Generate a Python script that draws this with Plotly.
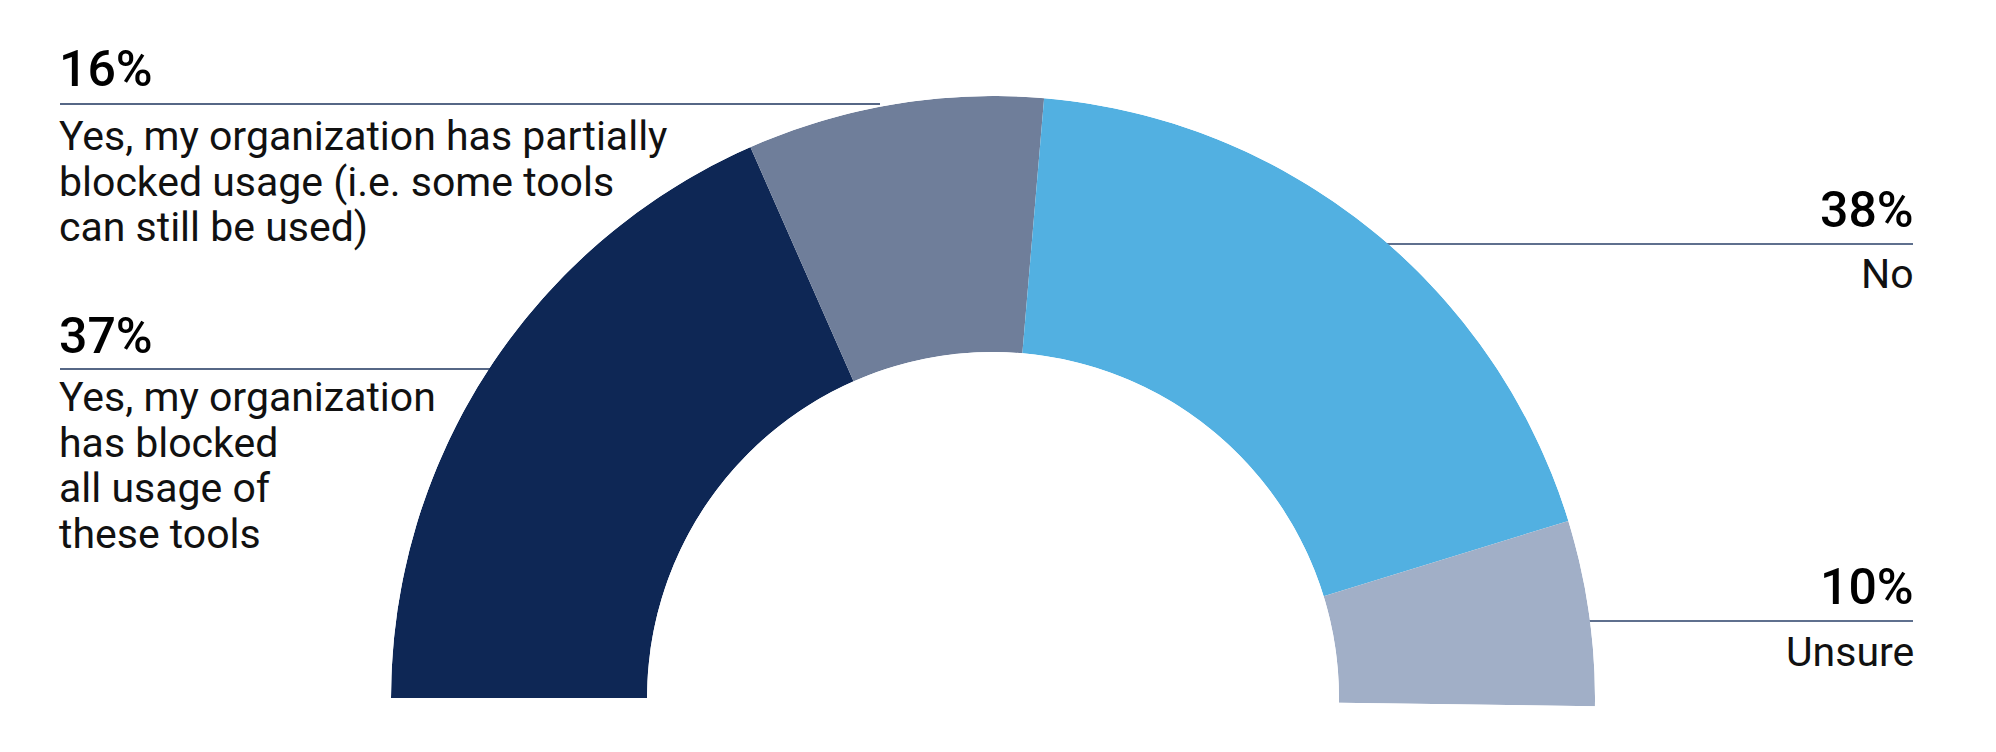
import plotly.graph_objects as go
import math

# ---- data ----
categories = [
    "Yes, my organization has blocked all usage of these tools",
    "Yes, my organization has partially blocked usage (i.e. some tools can still be used)",
    "No",
    "Unsure",
]
values = [37, 16, 38, 10]
pct_labels = ["37%", "16%", "38%", "10%"]
colors = ["#0e2755", "#6f7e9a", "#52b0e1", "#a1afc7"]

W, H = 1996, 752
DEG_PER_PCT = 1.79

# pie geometry (pixels)
R = 602
CX, CY = 993, 698
HOLE = 346 / 602

total = sum(values)
end_angle = 180 - total * DEG_PER_PCT  # screen angle where last slice ends
below = -math.sin(math.radians(end_angle)) if end_angle < 0 else 0

# bar centers / widths along angular axis (0 = west, clockwise)
thetas, widths = [], []
cum = 0
for v in values:
    thetas.append((cum + v / 2) * DEG_PER_PCT)
    widths.append(v * DEG_PER_PCT)
    cum += v

fig = go.Figure()
fig.add_trace(go.Barpolar(
    r=[1] * len(values),
    theta=thetas,
    width=widths,
    marker=dict(color=colors, line=dict(width=0)),
    text=categories,
    hoverinfo="text",
    showlegend=False,
))

dom_x = [(CX - R) / W, (CX + R) / W]
dom_y = [1 - (CY + R * below) / H, 1 - (CY - R) / H]

fig.update_layout(
    width=W, height=H,
    margin=dict(l=0, r=0, t=0, b=0),
    paper_bgcolor="white",
    plot_bgcolor="white",
    polar=dict(
        domain=dict(x=dom_x, y=dom_y),
        sector=[end_angle, 180],
        hole=HOLE,
        bgcolor="rgba(0,0,0,0)",
        radialaxis=dict(range=[0, 1], visible=False, showgrid=False, showline=False, showticklabels=False, ticks=""),
        angularaxis=dict(rotation=180, direction="clockwise", visible=False, showgrid=False,
                         showline=False, showticklabels=False, ticks=""),
    ),
    showlegend=False,
)

FONT = "Roboto"
pct_font = dict(family=FONT, size=50, color="#000000", weight=500)
txt_font = dict(family=FONT, size=41, color="#111111")

def px_y(py):
    return 1 - py / H

LEFT_X = 60 / W
RIGHT_X = 1913 / W

# left labels: (pct index, pct y, line y, line end x, text lines, text first y)
left_specs = [
    (1, 69, 104, 880, ["Yes, my organization has partially", "blocked usage (i.e. some tools", "can still be used)"], 136),
    (0, 336, 369, 500, ["Yes, my organization", "has blocked", "all usage of", "these tools"], 397),
]
LINE_GAP = 45.5

for idx, py, ly, lx_end, lines, ty in left_specs:
    fig.add_annotation(x=LEFT_X - 3 / W, y=px_y(py), xref="paper", yref="paper", text=pct_labels[idx],
                       showarrow=False, xanchor="left", yanchor="middle", font=pct_font)
    fig.add_shape(type="line", xref="paper", yref="paper", x0=LEFT_X, x1=lx_end / W,
                  y0=px_y(ly), y1=px_y(ly), line=dict(color="#1e355e", width=1.5), layer="below")
    for i, t in enumerate(lines):
        fig.add_annotation(x=LEFT_X - 3 / W, y=px_y(ty + i * LINE_GAP), xref="paper", yref="paper", text=t,
                           showarrow=False, xanchor="left", yanchor="middle", font=txt_font)

right_specs = [
    (2, 210, 244, 1380, "No", 274),
    (3, 587, 621, 1585, "Unsure", 652),
]
for idx, py, ly, lx_start, t, ty in right_specs:
    fig.add_annotation(x=RIGHT_X + 3 / W, y=px_y(py), xref="paper", yref="paper", text=pct_labels[idx],
                       showarrow=False, xanchor="right", yanchor="middle", font=pct_font)
    fig.add_shape(type="line", xref="paper", yref="paper", x0=lx_start / W, x1=RIGHT_X,
                  y0=px_y(ly), y1=px_y(ly), line=dict(color="#2a4068", width=1.5), layer="below")
    fig.add_annotation(x=RIGHT_X + 3 / W, y=px_y(ty), xref="paper", yref="paper", text=t,
                       showarrow=False, xanchor="right", yanchor="middle", font=txt_font)

fig.write_html("out.html")
